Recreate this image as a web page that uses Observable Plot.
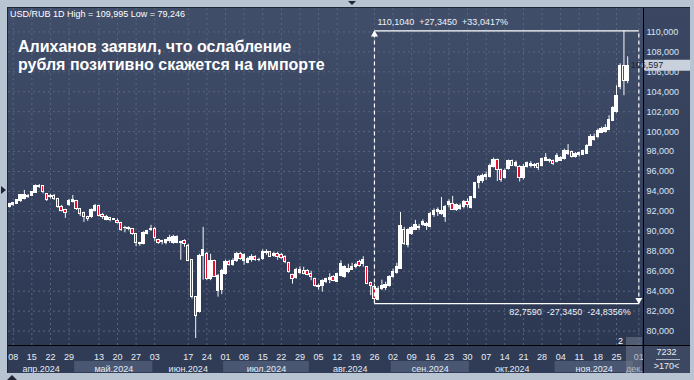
<!DOCTYPE html>
<html><head><meta charset="utf-8">
<script src="https://cdn.jsdelivr.net/npm/d3@7"></script>
<script src="https://cdn.jsdelivr.net/npm/@observablehq/plot@0.6"></script>
<style>
html,body{margin:0;padding:0;background:#b9c4d3;}
#wrap{position:relative;width:694px;height:380px;overflow:hidden;background:#b9c4d3;font-family:"Liberation Sans",Arial,sans-serif;}
.abs{position:absolute;}
#plotbg{left:8px;top:8px;width:635px;height:337px;background:linear-gradient(#414e6a,#2c3752);}
#axbg{left:643px;top:8px;width:47px;height:337px;background:linear-gradient(#3b4762,#2e3953);}
#datebg{left:8px;top:345px;width:635px;height:28px;background:#303b55;}
#cntbg{left:643px;top:345px;width:47px;height:28px;background:#3c4862;}
#hline{left:7px;top:345px;width:683px;height:1px;background:#000;}
#vline{left:643px;top:7px;width:1px;height:366px;background:#000;}
#topline{left:7px;top:7px;width:683px;height:1px;background:#1e2638;}
#leftline{left:7px;top:7px;width:1px;height:366px;background:#1e2638;}
#header{left:10px;top:9px;font-size:9px;line-height:10px;color:#fff;white-space:nowrap;}
#title{left:18px;top:38px;font-size:16px;line-height:18px;font-weight:bold;color:#fff;white-space:nowrap;}
#cnt1{left:643px;top:347px;width:47px;text-align:center;font-size:9px;color:#e8eef5;}
#cnt2{left:643px;top:361px;width:47px;text-align:center;font-size:9px;color:#e8eef5;}
#cntline{left:656px;top:359px;width:24px;height:1px;background:#aab4c4;}
#two{left:618px;top:336px;font-size:9px;color:#fff;}
#curbox{left:626px;top:337px;width:16px;height:36px;background:rgba(120,130,148,0.5);}
.tri-down{width:0;height:0;border-left:4px solid transparent;border-right:4px solid transparent;border-top:4px solid #1e2638;}
.tri-right{width:0;height:0;border-top:4px solid transparent;border-bottom:4px solid transparent;border-left:5px solid #1e2638;}
.tri-up{width:0;height:0;border-left:5px solid transparent;border-right:5px solid transparent;border-bottom:5px solid #1e2638;}
</style>
</head>
<body>
<div id="wrap">
  <div class="abs" id="plotbg"></div>
  <div class="abs" id="axbg"></div>
  <div class="abs" id="datebg"></div>
  <div class="abs" id="cntbg"></div>
  <div class="abs" id="main"></div>
  <div class="abs" id="axis" style="left:0;top:346px;"></div>
  <div class="abs" id="curbox"></div>
  <div class="abs" id="hline"></div>
  <div class="abs" id="vline"></div>
  <div class="abs" id="topline"></div>
  <div class="abs" id="leftline"></div>
  <div class="abs" id="header">USD/RUB 1D High = 109,995 Low = 79,246</div>
  <div class="abs" id="title">Алиханов заявил, что ослабление<br>рубля позитивно скажется на импорте</div>
  <div class="abs" id="cnt1">7232</div>
  <div class="abs" id="cntline"></div>
  <div class="abs" id="cnt2">&gt;170&lt;</div>
  <div class="abs" id="two">2</div>
  <div class="abs tri-down" style="left:348px;top:1px;"></div>
  <div class="abs tri-right" style="left:1px;top:186px;"></div>
  <div class="abs tri-up" style="left:7px;top:375px;"></div>
</div>
<script>
// ---- Data (USD/RUB daily candles, trading-day index 0..166) ----
const open = [92.45,92.6,92.75,93.05,93.25,93.4,93.55,93.85,94.45,94.5,93.7,93.45,93.55,93.25,92.4,92.1,92.6,92.9,93.05,92.2,
91.8,91.45,91.4,92.05,92.5,91.65,91.15,91.3,91.2,91.05,90.8,90.35,90.2,90.2,89.7,88.8,88.75,89.75,90.1,90.2,
89.1,89.0,88.85,89.05,88.85,88.8,88.9,89.05,88.5,87.1,83.4,81.9,87.5,87.7,85.25,87.0,84.05,84.1,85.75,86.95,
86.6,87.0,87.7,87.0,86.85,87.1,87.45,87.1,87.25,87.85,87.9,87.5,87.7,87.65,87.4,86.8,85.6,85.3,85.8,86.05,
86.05,85.75,85.2,84.55,84.55,84.9,85.1,85.4,84.95,85.55,85.4,85.9,86.15,86.4,86.95,86.75,86.4,84.8,84.45,83.1,
84.2,84.3,84.55,85.45,85.8,86.25,90.1,88.6,89.75,90.15,90.35,90.6,90.5,90.4,91.68,91.9,91.75,91.4,92.6,92.7,
92.15,92.25,92.4,92.95,92.35,93.35,94.8,95.0,95.4,95.4,96.45,97.15,96.15,95.35,96.25,97.05,96.6,96.5,95.3,96.5,
96.6,96.6,96.75,96.6,97.1,97.1,97.1,96.95,97.1,97.25,97.8,97.95,97.5,97.65,97.7,97.75,98.6,99.2,99.5,99.9,
100.0,100.2,101.1,101.95,104.45,106.63,105.05];
const high = [92.8,92.9,93.15,93.7,94.1,93.7,94.0,94.65,94.7,94.55,93.75,93.7,93.7,93.3,92.6,92.2,93.2,93.6,93.1,92.25,
91.9,91.5,92.25,92.7,92.6,91.8,91.6,91.4,91.25,91.25,90.9,90.5,90.45,90.25,89.75,88.9,89.95,90.1,90.6,90.4,
89.2,89.1,89.2,89.6,89.6,89.55,89.0,89.15,88.7,87.15,83.45,87.7,90.4,87.9,87.7,87.1,85.7,86.2,87.1,87.1,
87.25,87.9,87.9,87.75,87.4,87.65,87.55,87.3,88.15,88.15,87.95,87.9,87.9,87.8,87.55,86.9,85.7,86.3,86.45,86.4,
86.15,86.0,85.3,84.7,85.15,85.3,85.75,85.55,85.8,87.05,86.55,86.7,86.8,86.8,87.1,87.45,86.45,84.9,84.7,84.45,
85.1,84.9,85.55,86.2,86.8,91.9,90.4,90.25,90.5,91.1,90.7,91.15,90.9,91.9,92.25,92.35,93.4,92.6,93.15,93.5,
92.75,92.75,93.1,93.25,93.5,94.9,95.6,95.75,95.95,96.75,97.35,97.25,96.25,96.25,97.15,97.15,97.05,96.6,96.7,96.95,
97.0,96.8,96.85,97.35,97.8,97.25,97.15,97.8,97.5,98.25,98.7,98.05,97.9,97.95,98.15,98.7,99.7,99.75,100.25,100.45,
100.7,101.6,102.5,104.6,106.8,110.104,107.5];
const low = [92.35,92.5,92.7,92.9,93.15,93.3,93.5,93.8,94.3,93.75,93.0,93.25,93.1,92.3,91.95,91.3,92.5,92.85,92.1,91.5,
90.9,91.0,91.3,91.95,91.45,91.2,91.05,90.95,91.1,90.75,90.0,89.85,90.05,89.6,88.45,88.5,88.65,89.65,90.0,88.95,
88.7,88.65,88.65,88.8,88.7,88.75,87.1,88.4,86.95,83.2,79.246,81.8,85.1,85.05,85.05,85.4,83.4,83.65,85.6,86.5,
86.5,86.9,87.1,86.6,86.75,86.9,87.0,86.95,87.1,87.6,87.4,87.4,87.1,87.2,86.75,85.8,84.7,85.2,85.7,85.65,
85.55,85.05,84.4,84.1,83.9,84.75,84.75,84.95,84.9,85.45,85.3,85.75,86.1,86.25,86.4,86.4,84.65,83.55,82.759,83.05,
84.05,84.05,84.4,85.3,85.7,86.2,88.6,88.35,89.6,90.1,90.1,90.5,90.1,90.35,91.4,91.5,91.6,90.9,92.35,92.1,
92.0,92.1,92.25,92.35,92.25,93.25,94.25,94.8,95.1,95.35,96.35,95.0,94.9,95.25,96.15,96.5,96.4,94.95,95.15,96.35,
96.35,96.3,96.1,96.45,97.05,96.85,96.6,96.85,97.0,97.15,97.6,97.35,97.35,97.45,97.6,97.7,98.5,99.05,99.3,99.8,
99.85,100.1,101.05,101.85,104.2,103.6,104.8];
const close = [92.7,92.85,93.1,93.6,93.6,93.55,93.9,94.5,94.55,93.9,93.15,93.5,93.2,92.4,92.05,91.8,93.0,93.15,92.2,91.75,
91.4,91.2,92.1,92.5,91.55,91.45,91.4,91.1,91.15,90.85,90.1,90.3,90.35,89.7,88.8,88.75,89.8,90.05,90.25,89.35,
88.8,88.9,89.15,89.3,89.4,89.45,88.85,88.7,87.05,83.4,81.5,87.5,88.1,85.2,87.0,85.45,85.5,86.05,86.9,86.65,
87.05,87.75,87.25,87.6,87.2,87.45,87.1,87.15,87.9,87.9,87.45,87.75,87.4,87.35,86.9,85.9,85.2,86.1,86.1,85.75,
85.65,85.4,84.5,84.4,85.0,85.2,85.35,85.05,85.75,86.7,86.4,86.2,86.45,86.6,86.55,87.15,84.75,84.55,83.2,84.2,
84.55,84.65,85.45,85.9,86.45,90.5,88.7,90.1,90.3,90.6,90.45,90.9,90.75,91.75,92.0,92.15,92.0,92.4,92.9,92.15,
92.6,92.5,92.9,92.6,93.4,94.8,95.45,95.6,95.7,96.6,97.15,96.15,95.15,96.1,97.1,96.6,96.85,95.3,96.5,96.85,
96.75,96.7,96.35,97.25,97.4,97.2,96.75,97.6,97.35,98.05,98.05,97.5,97.75,97.85,98.05,98.6,99.5,99.5,100.1,100.3,
100.35,101.2,102.4,103.6,106.6,105.1,106.597];

const yTicks = [80,82,84,86,88,90,92,94,96,98,100,102,104,106,108,110];
const dayTickLabels = ["08","15","22","29","13","20","27","03","17","24","01","08","15","22","29","05","12","19","26","02","09","16","23","30","07","14","21","28","04","11","18","25","01"];
const dayTickIdx = [1,6,11,16,24,29,34,39,48,53,58,63,68,73,78,83,88,93,98,103,108,113,118,123,128,133,138,143,148,153,158,163,169];
const monthLabels = ["апр.2024","май.2024","июн.2024","июл.2024","авг.2024","сен.2024","окт.2024","ноя.2024","дек.2024"];
const monthFirst = [0,18,39,58,81,103,124,147,168];
const monthLast = [17,38,57,80,102,123,146,167,173];
const monthShaded = [false,true,false,true,false,true,false,true,false];
// measurement tool: from candle 98 to future index 169
const measureStart = 98, measureEnd = 169, measureHi = 110.104, measureLo = 82.759;

// ---- Build ----
const candles = open.map((o, i) => ({i, open: o, high: high[i], low: low[i], close: close[i]}));
const months = monthLabels.map((m, k) => ({label: m, first: monthFirst[k], last: monthLast[k], shaded: monthShaded[k]}));
const dayTicks = dayTickIdx.map((x, k) => ({x, label: dayTickLabels[k]}));
const xDomain = [-0.27, 170.25];
const font = '"Liberation Sans", Arial, sans-serif';
const grid = "#59667f";
const fmt3 = v => v.toFixed(3).replace(".", ",");
const fmt4 = v => v.toFixed(4).replace(".", ",");
const diff = measureHi - measureLo;
const hiText = `${fmt4(measureHi)}\u00a0\u00a0+${fmt4(diff)}\u00a0\u00a0+${fmt4(diff / measureLo * 100)}%`;
const loText = `${fmt4(measureLo)}\u00a0\u00a0-${fmt4(diff)}\u00a0\u00a0-${fmt4(diff / measureHi * 100)}%`;

const main = Plot.plot({
  width: 694, height: 345,
  marginLeft: 8, marginRight: 51, marginTop: 8, marginBottom: 0,
  x: {domain: xDomain, axis: null},
  y: {domain: [78.55, 112.35], axis: null},
  style: {background: "transparent", fontFamily: font, overflow: "visible"},
  marks: [
    Plot.ruleY(yTicks, {y: d => d, stroke: grid, strokeDasharray: "2,3"}),
    Plot.ruleX(dayTicks, {x: "x", stroke: grid, strokeDasharray: "2,3"}),
    Plot.ruleX(candles, {x: "i", y1: "low", y2: "high", stroke: "#f4f6fa", strokeWidth: 1}),
    Plot.rect(candles, {x1: d => d.i - 0.32, x2: d => d.i + 0.32, y1: "open", y2: "close",
      fill: d => d.close >= d.open ? "#ffffff" : "#e8102c", stroke: "#ffffff", strokeWidth: 1, shapeRendering: "crispEdges"}),
    // measurement tool
    Plot.link([{x1: measureStart, x2: measureEnd, y: measureHi}, {x1: measureStart, x2: measureEnd, y: measureLo}],
      {x1: "x1", x2: "x2", y1: "y", y2: "y", stroke: "#ffffff", strokeWidth: 1.2}),
    Plot.link([{x: measureStart}, {x: measureEnd}], {x1: "x", x2: "x", y1: () => measureLo, y2: () => measureHi,
      stroke: "#ffffff", strokeWidth: 1.2, strokeDasharray: "4,3"}),
    Plot.dot([{x: measureStart, y: measureHi}], {x: "x", y: "y", symbol: "triangle", r: 2.6, fill: "#ffffff", stroke: null, dy: 3.5}),
    Plot.dot([{x: measureEnd, y: measureLo}], {x: "x", y: "y", symbol: "triangle", r: 2.6, fill: "#ffffff", stroke: null, rotate: 180, dy: -3.5}),
    Plot.text([{x: measureStart, y: measureHi}], {x: "x", y: "y", text: () => hiText, textAnchor: "start", dx: 3, dy: -9,
      fill: "#eef2f7", fontSize: 9}),
    Plot.text([{x: measureEnd, y: measureLo}], {x: "x", y: "y", text: () => loText, textAnchor: "end", dx: -8, dy: 9,
      fill: "#eef2f7", fontSize: 9}),
    // right axis labels
    Plot.text(yTicks, {y: d => d, text: d => fmt3(d), frameAnchor: "right", dx: 3, textAnchor: "start",
      fill: "#d9e5f4", fontSize: 9})
  ]
});
document.getElementById("main").appendChild(main);

// background for the lower measurement label
const svgMain = d3.select(main);
svgMain.selectAll("text").each(function () {
  if (this.textContent === loText) {
    const b = this.getBBox();
    d3.select(this.parentNode).insert("rect", () => this)
      .attr("x", b.x - 2).attr("y", b.y - 1).attr("width", b.width + 5).attr("height", b.height + 2)
      .attr("fill", "#4b5873");
  }
});
// current price tag
const yScale = main.scale("y");
const last = close[close.length - 1];
const py = yScale.apply(last);
const tag = svgMain.append("g");
tag.append("polygon")
  .attr("points", `640,${py} 645,${py - 5.5} 690,${py - 5.5} 690,${py + 5.5} 645,${py + 5.5}`)
  .attr("fill", "#c9d1dd");
tag.append("text").attr("x", 647).attr("y", py).attr("dy", "0.34em")
  .attr("font-size", 9).attr("font-family", font).attr("fill", "#1a2333").text(fmt3(last));

const axis = Plot.plot({
  width: 694, height: 27,
  marginLeft: 8, marginRight: 51, marginTop: 0, marginBottom: 0,
  x: {domain: xDomain, axis: null},
  y: {domain: [0, 1], axis: null},
  style: {background: "transparent", fontFamily: font},
  marks: [
    Plot.rect(months.filter(d => d.shaded), {x1: d => d.first - 0.5, x2: d => d.last + 0.5, fill: "#4a5773", insetTop: 15, insetBottom: 1}),
    Plot.text(dayTicks, {x: "x", text: "label", frameAnchor: "top", dy: 7, fill: "#e6edf5", fontSize: 9, clip: true}),
    Plot.text(months, {x: d => (d.first + d.last) / 2, text: "label", frameAnchor: "top", dy: 19, fill: "#e6edf5", fontSize: 9, clip: true})
  ]
});
document.getElementById("axis").appendChild(axis);
</script>
</body></html>
